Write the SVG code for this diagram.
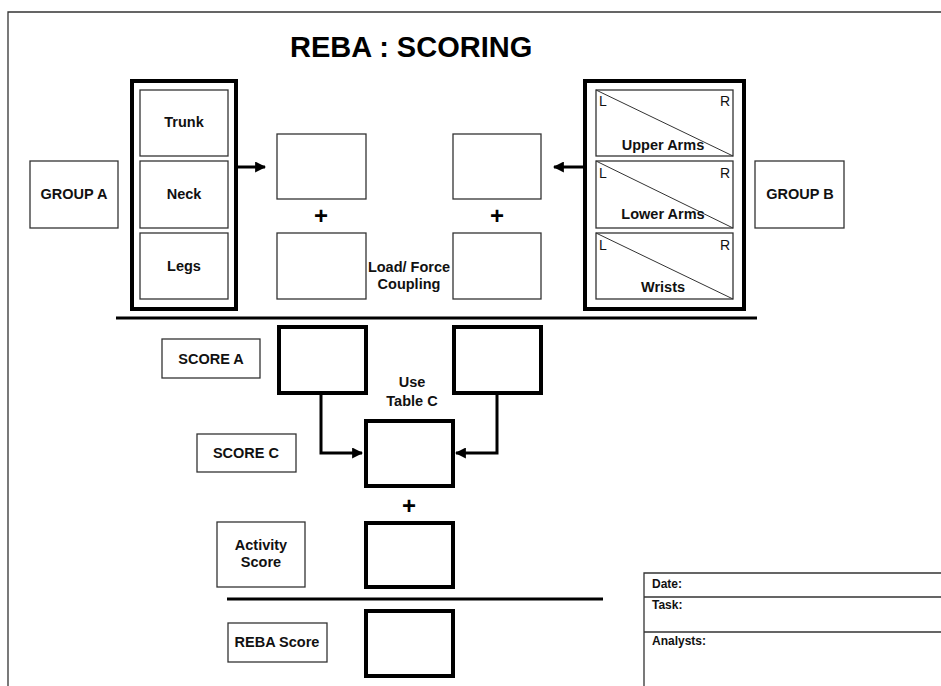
<svg xmlns="http://www.w3.org/2000/svg" width="941" height="686" viewBox="0 0 941 686">
<defs>
<style>
.thin{fill:#fff;stroke:#333;stroke-width:1.3}
.thick{fill:#fff;stroke:#000;stroke-width:4}
.t{font-family:"Liberation Sans",Arial,sans-serif;font-weight:bold;font-size:14.5px;fill:#111;text-anchor:middle}
.s{font-family:"Liberation Sans",Arial,sans-serif;font-weight:bold;font-size:12px;fill:#111}
.lr{font-family:"Liberation Sans",Arial,sans-serif;font-size:14px;fill:#111}
.plus{font-family:"Liberation Sans",Arial,sans-serif;font-weight:bold;font-size:24px;fill:#000;text-anchor:middle}
.diag{stroke:#333;stroke-width:1}
.conn{fill:none;stroke:#000;stroke-width:3}
</style>
<marker id="ah" viewBox="0 0 10 10" refX="9" refY="5" markerWidth="11" markerHeight="11" markerUnits="userSpaceOnUse" orient="auto">
<path d="M0,0 L10,5 L0,10 z" fill="#000"/>
</marker>
</defs>
<rect width="941" height="686" fill="#fff"/>
<g id="frame">
<path d="M8,686 V12 H941" fill="none" stroke="#333" stroke-width="1.3"/>
</g>
<text id="title" x="290" y="57" font-family="Liberation Sans,Arial,sans-serif" font-weight="bold" font-size="29" fill="#000">REBA : SCORING</text>

<g id="groupA-label"><rect class="thin" x="30" y="161" width="88" height="67"/><text class="t" x="74" y="199">GROUP A</text></g>
<g id="groupA">
<rect class="thick" x="132" y="81" width="104" height="228"/>
<g id="trunk"><rect class="thin" x="140" y="90" width="88" height="66"/><text class="t" x="184" y="127">Trunk</text></g>
<g id="neck"><rect class="thin" x="140" y="161" width="88" height="67"/><text class="t" x="184" y="199">Neck</text></g>
<g id="legs"><rect class="thin" x="140" y="233" width="88" height="66"/><text class="t" x="184" y="271">Legs</text></g>
</g>

<g id="boxA1"><rect class="thin" x="277" y="134" width="89" height="65"/></g>
<g id="boxA2"><rect class="thin" x="277" y="233" width="89" height="66"/></g>
<text class="plus" x="321" y="224">+</text>
<g id="boxB1"><rect class="thin" x="453" y="134" width="88" height="65"/></g>
<g id="boxB2"><rect class="thin" x="453" y="233" width="88" height="66"/></g>
<text class="plus" x="497" y="224">+</text>
<g id="load-label"><text class="t" x="409" y="272">Load/ Force</text><text class="t" x="409" y="289">Coupling</text></g>

<g id="groupB">
<rect class="thick" x="585" y="81" width="159" height="228"/>
<g id="upperarms"><rect class="thin" x="596" y="90" width="137" height="66"/><line class="diag" x1="596" y1="90" x2="733" y2="156"/><text class="lr" x="599" y="106">L</text><text class="lr" x="720" y="106">R</text><text class="t" x="663" y="150">Upper Arms</text></g>
<g id="lowerarms"><rect class="thin" x="596" y="161" width="137" height="67"/><line class="diag" x1="596" y1="161" x2="733" y2="228"/><text class="lr" x="599" y="178">L</text><text class="lr" x="720" y="178">R</text><text class="t" x="663" y="219">Lower Arms</text></g>
<g id="wrists"><rect class="thin" x="596" y="233" width="137" height="66"/><line class="diag" x1="596" y1="233" x2="733" y2="299"/><text class="lr" x="599" y="250">L</text><text class="lr" x="720" y="250">R</text><text class="t" x="663" y="292">Wrists</text></g>
</g>
<g id="groupB-label"><rect class="thin" x="755" y="161" width="89" height="67"/><text class="t" x="800" y="199">GROUP B</text></g>

<g id="scoreA-label"><rect class="thin" x="162" y="339" width="98" height="39"/><text class="t" x="211" y="364">SCORE A</text></g>
<g id="scoreA"><rect class="thick" x="279" y="327" width="87" height="66"/></g>
<g id="scoreB"><rect class="thick" x="454" y="327" width="87" height="66"/></g>
<g id="tableC-label"><text class="t" x="412" y="387">Use</text><text class="t" x="412" y="406">Table C</text></g>
<g id="scoreC-label"><rect class="thin" x="197" y="434" width="99" height="38"/><text class="t" x="246" y="458">SCORE C</text></g>
<g id="scoreC"><rect class="thick" x="366" y="421" width="87" height="65"/></g>
<text class="plus" x="409" y="514">+</text>
<g id="activity-label"><rect class="thin" x="217" y="522" width="88" height="65"/><text class="t" x="261" y="550">Activity</text><text class="t" x="261" y="567">Score</text></g>
<g id="activity"><rect class="thick" x="366" y="523" width="87" height="64"/></g>
<g id="reba-label"><rect class="thin" x="228" y="623" width="99" height="39"/><text class="t" x="277" y="647">REBA Score</text></g>
<g id="reba"><rect class="thick" x="366" y="611" width="87" height="65"/></g>

<g id="connectors">
<path class="conn" d="M238,167 H265" marker-end="url(#ah)"/>
<path class="conn" d="M583,167 H554" marker-end="url(#ah)"/>
<path class="conn" d="M321,395 V453 H362" marker-end="url(#ah)"/>
<path class="conn" d="M497,395 V453 H456" marker-end="url(#ah)"/>
<line x1="116" y1="318" x2="757" y2="318" stroke="#000" stroke-width="3"/>
<line x1="227" y1="599" x2="603" y2="599" stroke="#000" stroke-width="3"/>
</g>

<g id="info-table">
<path d="M644,686 V573 H941 M644,597 H941 M644,632 H941" fill="none" stroke="#333" stroke-width="1.3"/>
<text class="s" x="652" y="588">Date:</text>
<text class="s" x="652" y="609">Task:</text>
<text class="s" x="652" y="645">Analysts:</text>
</g>
</svg>
